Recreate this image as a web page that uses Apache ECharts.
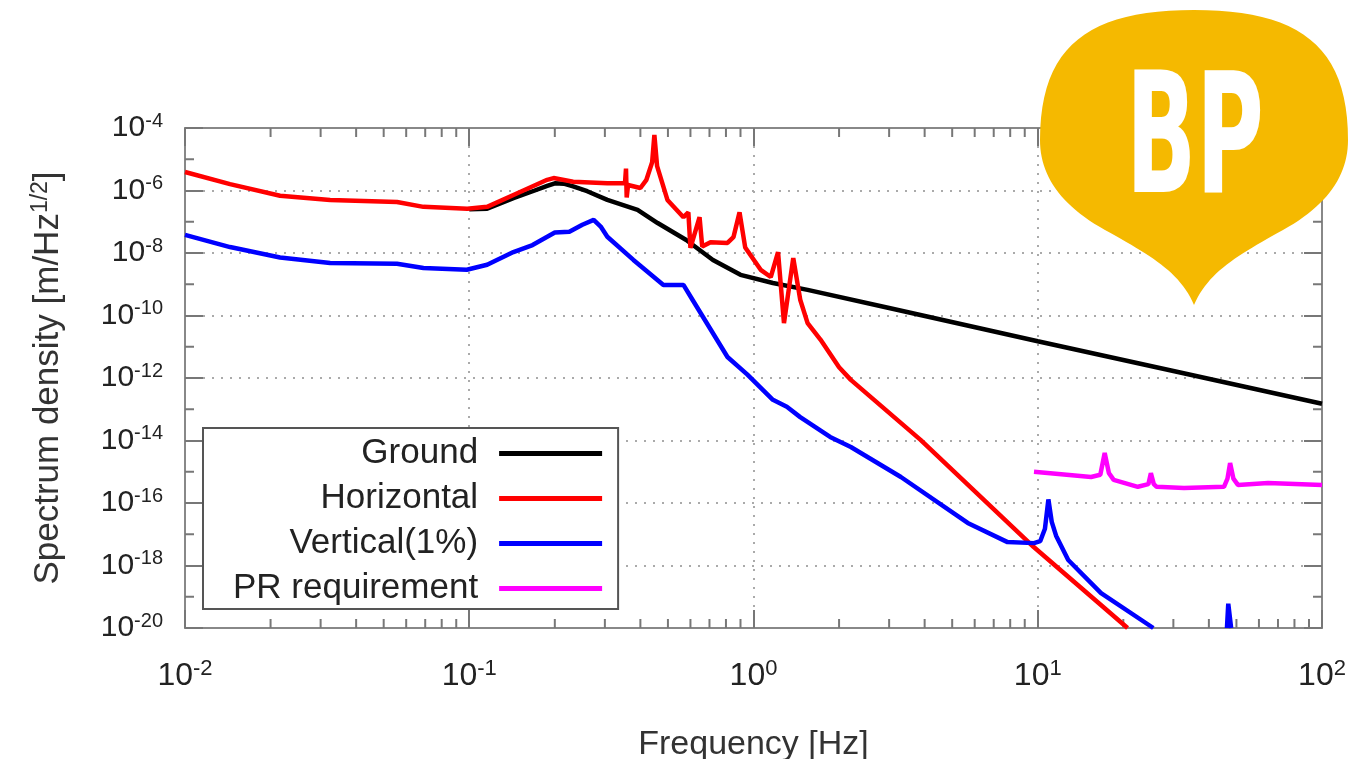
<!DOCTYPE html>
<html>
<head>
<meta charset="utf-8">
<title>Spectrum density</title>
<script src="https://cdn.jsdelivr.net/npm/echarts@6/dist/echarts.min.js"></script>
<style>
  html, body { margin: 0; padding: 0; background: #fff; }
  #chart { width: 1356px; height: 759px; }
</style>
</head>
<body>
<div id="chart"></div>
<script>
// [frequency Hz, spectrum density m/Hz^1/2]
const ground = [
  [0.1, 2.5e-7], [0.1156, 2.6e-7], [0.143, 5.7e-7], [0.17, 1.0e-6],
  [0.188, 1.4e-6], [0.2, 1.7e-6], [0.215, 1.65e-6], [0.232, 1.35e-6], [0.26, 9.5e-7],
  [0.306, 5e-7], [0.391, 2.4e-7], [0.46, 9.1e-8], [0.58, 2.6e-8], [0.72, 6e-9],
  [0.9, 2e-9], [1.17, 1.1e-9], [1.55, 6.6e-10], [3, 1.74e-10], [10, 1.5e-11],
  [30, 1.67e-12], [100, 1.5e-13]
];
const horizontal = [
  [0.01, 3.9e-6], [0.0144, 1.6e-6], [0.0216, 6.8e-7], [0.0324, 5e-7], [0.0557, 4.3e-7], [0.069, 3e-7],
  [0.0984, 2.6e-7], [0.1156, 3e-7], [0.143, 7.2e-7], [0.188, 2.2e-6], [0.198, 2.5e-6],
  [0.232, 1.9e-6], [0.306, 1.7e-6], [0.353, 1.7e-6], [0.356, 5e-6], [0.358, 6e-7],
  [0.362, 1.5e-6], [0.4, 1.2e-6], [0.42, 2.2e-6], [0.44, 8e-6], [0.448, 6e-5],
  [0.458, 6e-6], [0.498, 5e-7], [0.567, 1.4e-7], [0.59, 2e-7], [0.6, 1.45e-8],
  [0.646, 1.4e-7], [0.66, 1.6e-8], [0.706, 2.2e-8], [0.81, 2.1e-8], [0.85, 3.2e-8],
  [0.893, 2e-7], [0.935, 1.5e-8], [1.06, 2.9e-9], [1.15, 1.7e-9], [1.22, 1.07e-8],
  [1.28, 5.7e-11], [1.38, 6.9e-9], [1.46, 3.2e-10], [1.55, 5.7e-11], [1.72, 1.7e-11],
  [2.0, 2.2e-12], [2.2, 8.7e-13], [3.87, 1.05e-14], [9.68, 3.9e-18], [20.7, 1.0e-20]
];
const vertical = [
  [0.01, 3.8e-8], [0.0144, 1.55e-8], [0.0216, 7.2e-9], [0.0324, 4.8e-9], [0.0557, 4.5e-9], [0.069, 3.3e-9],
  [0.098, 2.9e-9], [0.1156, 4.2e-9], [0.143, 1.07e-8], [0.167, 1.8e-8], [0.2, 4.5e-8],
  [0.225, 4.8e-8], [0.25, 8e-8], [0.274, 1.15e-7], [0.29, 7e-8], [0.306, 3.3e-8],
  [0.378, 6e-9], [0.482, 9.5e-10], [0.567, 9.5e-10], [0.61, 3.2e-10], [0.81, 4.7e-12],
  [0.95, 1.3e-12], [1.17, 2.0e-13], [1.31, 1.2e-13], [1.46, 5.6e-14], [1.86, 1.3e-14],
  [2.2, 6.2e-15], [3.3, 6.8e-16], [5.67, 2.3e-17], [7.83, 5.6e-18], [9.7, 5.2e-18],
  [10.2, 6e-18], [10.6, 1.5e-17], [10.9, 1.3e-16], [11.2, 2.5e-17], [11.6, 9e-18],
  [12.8, 1.5e-18], [16.7, 1.3e-19], [25.5, 1.0e-20]
];
const verticalBlip = [[46.3, 1e-20], [46.8, 6e-20], [47.4, 6e-20], [47.9, 1e-20]];
const prRequirement = [
  [9.7, 1e-15], [15.4, 6.8e-16], [16.6, 8e-16], [17.2, 4e-15], [17.8, 9e-16],
  [18.5, 5.5e-16], [22.5, 3.3e-16], [24.5, 4e-16], [25, 9e-16], [25.6, 4e-16],
  [26.2, 3.3e-16], [32.7, 3e-16], [45.2, 3.3e-16], [46.5, 6e-16], [47.5, 1.9e-15],
  [48.8, 6e-16], [50.6, 3.8e-16], [64.6, 4.4e-16], [100, 3.8e-16]
];
const seriesNames = ["Ground", "Horizontal", "Vertical(1%)", "PR requirement"];
const seriesColors = ["#000000", "#ff0000", "#0000ff", "#ff00ff"];

const xMin = 0.01, xMax = 100, yMin = 1e-20, yMax = 1e-4;

// minor ticks: 2..9 per decade on x, odd decades on y
const xMinor = [];
for (let e = -2; e <= 1; e++) for (let k = 2; k <= 9; k++) xMinor.push([k * Math.pow(10, e), yMin]);
const yMinor = [];
for (let e = -19; e <= -5; e += 2) yMinor.push([xMin, Math.pow(10, e)]);

// badge outline (pixel space), sampled from cubic curves
const badgeCurves = [
  [[1194, 305], [1180, 272], [1150, 255], [1105, 230]],
  [[1105, 230], [1060, 205], [1040, 175], [1040, 140]],
  [[1040, 140], [1040, 45], [1090, 10], [1194, 10]],
  [[1194, 10], [1298, 10], [1348, 45], [1348, 140]],
  [[1348, 140], [1348, 175], [1328, 205], [1283, 230]],
  [[1283, 230], [1238, 255], [1208, 272], [1194, 305]]
];
const badgePoints = [];
badgeCurves.forEach(function (c) {
  for (let i = 0; i < 24; i++) {
    const t = i / 24, u = 1 - t;
    badgePoints.push([
      u * u * u * c[0][0] + 3 * u * u * t * c[1][0] + 3 * u * t * t * c[2][0] + t * t * t * c[3][0],
      u * u * u * c[0][1] + 3 * u * u * t * c[1][1] + 3 * u * t * t * c[2][1] + t * t * t * c[3][1]
    ]);
  }
});

const tickColor = "#777";
const richFor = (size, sup) => ({
  b: { fontSize: size, fontFamily: "Liberation Sans", color: "#222", lineHeight: size + 4 },
  s: { fontSize: sup, fontFamily: "Liberation Sans", color: "#222", verticalAlign: "top", lineHeight: sup }
});
const powLabel = (v) => "{b|10}{s|" + Math.round(Math.log10(v)) + "}";

const axisCommon = {
  type: "log",
  logBase: 10,
  axisLine: { show: true, lineStyle: { color: "#888", width: 2 } },
  axisTick: { show: true, inside: true, length: 18, lineStyle: { color: tickColor, width: 2 } },
  minorTick: { show: false },
  minorSplitLine: { show: false }
};

const lineSeries = (name, data, color) => ({
  name: name,
  type: "line",
  data: data,
  symbol: "none",
  silent: true,
  lineStyle: { color: color, width: 4.5 },
  itemStyle: { color: color },
  xAxisIndex: 0,
  yAxisIndex: 0
});

const chart = echarts.init(document.getElementById("chart"));
chart.setOption({
  animation: false,
  backgroundColor: "#fff",
  grid: { left: 185, right: 34, top: 128, bottom: 131, containLabel: false, outerBoundsMode: "none" },
  legend: {
    orient: "vertical",
    left: 203,
    top: 428,
    align: "right",
    icon: "rect",
    itemWidth: 103,
    itemHeight: 5,
    itemGap: 10,
    padding: [8, 16, 3, 30],
    borderColor: "#555",
    borderWidth: 2,
    backgroundColor: "#fff",
    selectedMode: false,
    textStyle: { fontSize: 35, fontFamily: "Liberation Sans", color: "#222", padding: [0, 16, 0, 0], lineHeight: 34 },
    data: seriesNames
  },
  xAxis: [
    Object.assign({}, axisCommon, {
      min: xMin, max: xMax, interval: 1, position: "bottom",
      axisLabel: { margin: 30, formatter: powLabel, rich: richFor(32, 22) },
      splitLine: { show: true, lineStyle: { type: [2, 7], color: "#aaa", width: 2 } },
      name: "Frequency [Hz]",
      nameLocation: "middle",
      nameGap: 100,
      nameTextStyle: { fontSize: 34, fontFamily: "Liberation Sans", color: "#333", verticalAlign: "top" }
    }),
    Object.assign({}, axisCommon, {
      min: xMin, max: xMax, interval: 1, position: "top",
      axisLabel: { show: false }, splitLine: { show: false }
    })
  ],
  yAxis: [
    Object.assign({}, axisCommon, {
      min: yMin, max: yMax, interval: 2, position: "left",
      axisLabel: { margin: 22, formatter: powLabel, rich: richFor(30, 20) },
      splitLine: { show: true, lineStyle: { type: [2, 7], color: "#aaa", width: 2 } },
      name: "{n|Spectrum density [m/Hz}{s|1/2}{n|]}",
      nameLocation: "middle",
      nameGap: 118,
      nameTextStyle: {
        rich: {
          n: { fontSize: 35, fontFamily: "Liberation Sans", color: "#333", lineHeight: 38 },
          s: { fontSize: 23, fontFamily: "Liberation Sans", color: "#333", verticalAlign: "top", lineHeight: 23 }
        }
      }
    }),
    Object.assign({}, axisCommon, {
      min: yMin, max: yMax, interval: 2, position: "right",
      axisLabel: { show: false }, splitLine: { show: false }
    })
  ],
  series: [
    lineSeries(seriesNames[0], ground, seriesColors[0]),
    lineSeries(seriesNames[1], horizontal, seriesColors[1]),
    lineSeries(seriesNames[2], vertical, seriesColors[2]),
    lineSeries(seriesNames[2], verticalBlip, seriesColors[2]),
    lineSeries(seriesNames[3], prRequirement, seriesColors[3]),
    {
      type: "custom",
      silent: true,
      clip: false,
      xAxisIndex: 0,
      yAxisIndex: 0,
      data: xMinor,
      renderItem: function (params, api) {
        const b = api.coord([api.value(0), yMin]);
        const t = api.coord([api.value(0), yMax]);
        const st = { stroke: tickColor, lineWidth: 2 };
        return {
          type: "group",
          children: [
            { type: "line", shape: { x1: b[0], y1: b[1], x2: b[0], y2: b[1] - 9 }, style: st },
            { type: "line", shape: { x1: t[0], y1: t[1], x2: t[0], y2: t[1] + 9 }, style: st }
          ]
        };
      }
    },
    {
      type: "custom",
      silent: true,
      clip: false,
      xAxisIndex: 0,
      yAxisIndex: 0,
      data: yMinor,
      renderItem: function (params, api) {
        const l = api.coord([xMin, api.value(1)]);
        const r = api.coord([xMax, api.value(1)]);
        const st = { stroke: tickColor, lineWidth: 2 };
        return {
          type: "group",
          children: [
            { type: "line", shape: { x1: l[0], y1: l[1], x2: l[0] + 9, y2: l[1] }, style: st },
            { type: "line", shape: { x1: r[0], y1: r[1], x2: r[0] - 9, y2: r[1] }, style: st }
          ]
        };
      }
    }
  ],
  graphic: [
    {
      type: "polygon",
      z: 100,
      silent: true,
      shape: { points: badgePoints },
      style: { fill: "#f5b900" }
    },
    {
      type: "text",
      z: 101,
      silent: true,
      x: 1195,
      y: 148,
      scaleX: 0.61,
      style: {
        text: "BP",
        fill: "#fff",
        fontSize: 168,
        fontWeight: "bold",
        fontFamily: "DejaVu Sans Condensed",
        align: "center",
        verticalAlign: "middle"
      }
    }
  ]
});
</script>
</body>
</html>
